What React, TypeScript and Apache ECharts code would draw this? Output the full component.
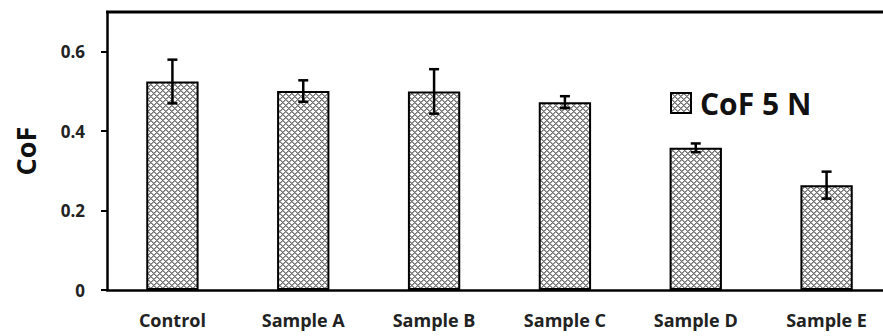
import React, { useEffect, useRef } from "react";
import * as echarts from "echarts";

const categories = ["Control", "Sample A", "Sample B", "Sample C", "Sample D", "Sample E"];
const cofMeans = [0.525, 0.501, 0.5, 0.473, 0.358, 0.264];
const cofErrors = [0.055, 0.027, 0.056, 0.015, 0.011, 0.034];
const yTicks = [0, 0.2, 0.4, 0.6];
const seriesName = "CoF 5 N";

function makeHatch(): HTMLCanvasElement {
  const size = 6;
  const c = document.createElement("canvas");
  c.width = size;
  c.height = size;
  const ctx = c.getContext("2d")!;
  const img = ctx.createImageData(size, size);
  for (let y = 0; y < size; y++) {
    for (let x = 0; x < size; x++) {
      const a = (((x - y) % size) + size) % size;
      const b = (x + y) % size;
      let v = 255;
      if (a === 0 || b === 0) v = 115;
      else if (a === 1 || b === 1) v = 165;
      const i = (y * size + x) * 4;
      img.data[i] = v;
      img.data[i + 1] = v;
      img.data[i + 2] = v;
      img.data[i + 3] = 255;
    }
  }
  ctx.putImageData(img, 0, 0);
  return c;
}

export default function App() {
  const ref = useRef<HTMLDivElement>(null);
  useEffect(() => {
    if (!ref.current) return;
    const chart = echarts.init(ref.current, undefined, { renderer: "svg", width: 892, height: 336 });
    const hatch = { image: makeHatch(), repeat: "repeat" } as any;
    const font = "'Open Sans', sans-serif";
    chart.setOption({
      animation: false,
      grid: {
        left: 107,
        top: 12,
        bottom: 46,
        right: 0,
        outerBoundsMode: "none",
      },
      legend: {
        data: [seriesName],
        left: 665,
        top: 83,
        icon: "rect",
        itemWidth: 20,
        itemHeight: 20,
        itemStyle: { borderColor: "#000", borderWidth: 2 },
        textStyle: {
          fontFamily: font,
          fontSize: 30,
          fontWeight: "bold",
          color: "#111",
          padding: [0, 0, 0, 4],
        },
      },
      xAxis: {
        type: "category",
        data: categories,
        boundaryGap: true,
        splitLine: { show: false },
        axisLine: { lineStyle: { color: "#000", width: 2.5 } },
        axisTick: { alignWithLabel: true, length: 4, lineStyle: { color: "#000", width: 2 } },
        axisLabel: {
          margin: 21,
          fontFamily: font,
          fontSize: 18,
          fontWeight: "bold",
          color: "#222",
          interval: 0,
        },
      },
      yAxis: [
        {
          type: "value",
          min: 0,
          max: 0.7,
          interval: 0.1,
          name: "CoF",
          nameLocation: "middle",
          nameGap: 68,
          nameRotate: 90,
          nameTextStyle: { fontFamily: font, fontSize: 27, fontWeight: "bold", color: "#111" },
          splitLine: { show: false },
          axisLine: { show: true, lineStyle: { color: "#000", width: 2.5 } },
          axisTick: { show: true, length: 6, customValues: yTicks, lineStyle: { color: "#000", width: 2 } },
          axisLabel: {
            customValues: yTicks,
            margin: 22,
            fontFamily: font,
            fontSize: 17,
            fontWeight: "bold",
            color: "#222",
            formatter: (v: number) => (v === 0 ? "0" : v.toFixed(1)),
          },
        },
      ],
      graphic: [
        {
          type: "line",
          shape: { x1: 106, y1: 12, x2: 892, y2: 12 },
          style: { stroke: "#000", lineWidth: 3 },
          z: 100,
        },
      ],
      series: [
        {
          name: seriesName,
          type: "bar",
          data: cofMeans,
          barWidth: "40%",
          itemStyle: { color: hatch, borderColor: "#000", borderWidth: 2 },
        },
        {
          type: "custom",
          name: "err",
          data: cofMeans.map((m, i) => [i, m - cofErrors[i], m + cofErrors[i]]),
          encode: { x: 0, y: [1, 2] },
          z: 10,
          renderItem: (params: any, api: any) => {
            const i = api.value(0);
            const lo = api.coord([i, api.value(1)]);
            const hi = api.coord([i, api.value(2)]);
            const x = lo[0];
            const w = 5;
            const style = { stroke: "#000", lineWidth: 2.5 };
            return {
              type: "group",
              children: [
                { type: "line", shape: { x1: x, y1: lo[1], x2: x, y2: hi[1] }, style },
                { type: "line", shape: { x1: x - w, y1: lo[1], x2: x + w, y2: lo[1] }, style },
                { type: "line", shape: { x1: x - w, y1: hi[1], x2: x + w, y2: hi[1] }, style },
              ],
            };
          },
        },
      ],
    });
    return () => chart.dispose();
  }, []);
  return (
    <div style={{ width: 883, height: 336, position: "absolute", left: 0, top: 0, overflow: "hidden" }}>
      <div ref={ref} style={{ width: 892, height: 336 }} />
    </div>
  );
}
